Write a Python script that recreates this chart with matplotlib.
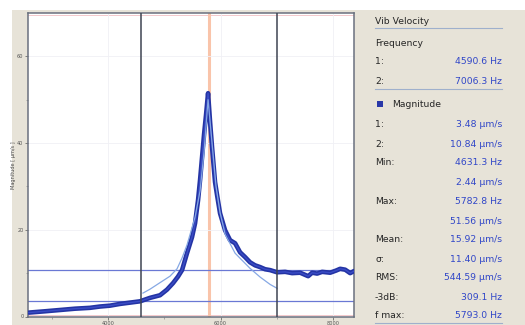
import matplotlib
matplotlib.use("Agg")
import matplotlib.pyplot as plt
from matplotlib.patches import Rectangle
from matplotlib.lines import Line2D

# ---- data ----
freq = [2596, 2880, 3147, 3413, 3680, 3858, 4036, 4213, 4391, 4569, 4747, 4924,
        5049, 5156, 5244, 5316, 5404, 5493, 5547, 5600, 5636, 5707, 5742, 5778,
        5813, 5849, 5902, 5938, 5991, 6080, 6169, 6258, 6347, 6436, 6524, 6613,
        6702, 6791, 6880, 7004, 7147, 7271, 7413, 7502, 7556, 7627, 7716, 7804,
        7947, 8053, 8124, 8213, 8302, 8373]
magnitude = [0.9, 1.2, 1.5, 1.8, 2.0, 2.3, 2.5, 2.9, 3.2, 3.5, 4.3, 4.9,
             6.2, 7.7, 9.2, 10.7, 14.6, 18.3, 21.5, 26.8, 31.5, 42.0, 46.5, 51.5,
             45.0, 39.0, 31.0, 28.0, 23.8, 19.9, 17.6, 16.9, 14.8, 13.7, 12.5, 11.8,
             11.4, 10.9, 10.7, 10.2, 10.3, 10.0, 10.1, 9.6, 9.3, 10.1, 9.9, 10.3,
             10.1, 10.6, 11.0, 10.8, 10.0, 10.5]

fit_freq = [4622, 4747, 4924, 5102, 5227, 5316, 5404, 5547, 5636, 5707, 5778,
            5849, 5920, 5991, 6080, 6258, 6524, 6702, 6880, 7004]
fit_mag = [5.4, 6.3, 7.8, 9.3, 11.0, 13.5, 16.5, 22.9, 29.0, 38.0, 50.0,
           40.0, 30.0, 24.0, 19.0, 14.6, 11.1, 9.1, 7.4, 6.5]

cursor_freq = [4590.6, 7006.3]
cursor_mag = [3.48, 10.84]
fmax = 5793.0

x_ticks = [4000, 6000, 8000]
y_ticks = [0, 20, 40, 60]

panel_rows = [
    ("1:", "4590.6 Hz"), ("2:", "7006.3 Hz"),
]
mag_rows = [
    ("1:", "3.48 µm/s"), ("2:", "10.84 µm/s"),
    ("Min:", "4631.3 Hz"), ("", "2.44 µm/s"),
    ("Max:", "5782.8 Hz"), ("", "51.56 µm/s"),
    ("Mean:", "15.92 µm/s"), ("σ:", "11.40 µm/s"),
    ("RMS:", "544.59 µm/s"), ("-3dB:", "309.1 Hz"),
    ("f max:", "5793.0 Hz"),
]

# ---- figure ----
W, H = 525, 325
fig = plt.figure(figsize=(W / 100, H / 100), dpi=100)
fig.patch.set_facecolor("white")

def fx(px):
    return px / W

def fy(py):
    return 1 - py / H

beige = "#e7e3d8"
bg = Rectangle((fx(12), 0), fx(525) - fx(12), fy(10), transform=fig.transFigure,
               facecolor=beige, edgecolor="none", zorder=-10)
fig.add_artist(bg)

ax = fig.add_axes([fx(28), fy(316.5), fx(354) - fx(28), fy(13) - fy(316.5)])
ax.set_zorder(5)
ax.set_facecolor("white")
ax.set_xlim(2580, 8370)
ax.set_ylim(0, 70)

ax.set_xticks(x_ticks)
ax.set_xticks([3000, 5000, 7000], minor=True)
ax.set_yticks(y_ticks)
ax.set_yticks([10, 30, 50], minor=True)
ax.tick_params(axis="both", which="major", labelsize=3.6, length=2, width=0.5,
               colors="#555555", pad=1.2)
ax.tick_params(axis="both", which="minor", length=1.2, width=0.4, colors="#777777")
ax.grid(True, which="major", color="#f0f0f5", lw=0.6)
ax.set_ylabel("Magnitude [ µm/s ]", fontsize=3.6, color="#444444", labelpad=1.0)

for s in ax.spines.values():
    s.set_color("#6a707e")
    s.set_linewidth(1.1)
# thin pinkish inner frame
ax.axhline(69.6, color="#f0b4b8", lw=0.5, zorder=1)
ax.axhline(0.35, color="#f0b4b8", lw=0.5, zorder=1)

# fmax marker
ax.axvline(fmax, color="#f9c4aa", lw=2.2, zorder=1)
# horizontal magnitude cursors
for m in cursor_mag:
    ax.axhline(m, color="#6a78d4", lw=0.9, zorder=2)
# vertical frequency cursors
for f in cursor_freq:
    ax.axvline(f, color="#3e4452", lw=1.1, zorder=4)

# measured data
ax.plot(freq, magnitude, color="#2434a4", lw=3.3, solid_joinstyle="round",
        solid_capstyle="round", zorder=3)
ax.plot(freq, magnitude, color="#3a4cc6", lw=1.0, zorder=3)
# fit
ax.plot(fit_freq, fit_mag, color="#86a8e4", lw=0.9, zorder=3.5)

# ---- right panel ----
lab_c = "#262626"
val_c = "#3046c8"
fs = 6.7
xl, xr = fx(375), fx(502)

fig.text(xl, fy(21), "Vib Velocity", fontsize=fs, color=lab_c, va="center")
fig.add_artist(Line2D([xl, xr], [fy(27.5), fy(27.5)], color="#9fb0cc", lw=0.8,
                      transform=fig.transFigure))
fig.text(xl, fy(44), "Frequency", fontsize=fs, color=lab_c, va="center")
ys = [62, 82]
for (lab, val), yy in zip(panel_rows, ys):
    fig.text(xl, fy(yy), lab, fontsize=fs, color=lab_c, va="center")
    fig.text(xr, fy(yy), val, fontsize=fs, color=val_c, va="center", ha="right")
fig.add_artist(Line2D([xl, xr], [fy(89.5), fy(89.5)], color="#9fb0cc", lw=0.8,
                      transform=fig.transFigure))
fig.add_artist(Rectangle((fx(377), fy(107)), fx(6), 6 / H, transform=fig.transFigure,
                         facecolor="#2a38a8", edgecolor="none"))
fig.text(fx(392), fy(104), "Magnitude", fontsize=fs, color=lab_c, va="center")
ys2 = [124, 144, 163, 183, 202, 222, 240, 259, 278, 297, 315]
for (lab, val), yy in zip(mag_rows, ys2):
    if lab:
        fig.text(xl, fy(yy), lab, fontsize=fs, color=lab_c, va="center")
    fig.text(xr, fy(yy), val, fontsize=fs, color=val_c, va="center", ha="right")
fig.add_artist(Line2D([xl, xr], [fy(323), fy(323)], color="#9fb0cc", lw=0.8,
                      transform=fig.transFigure))

fig.savefig("out.png", dpi=100)
